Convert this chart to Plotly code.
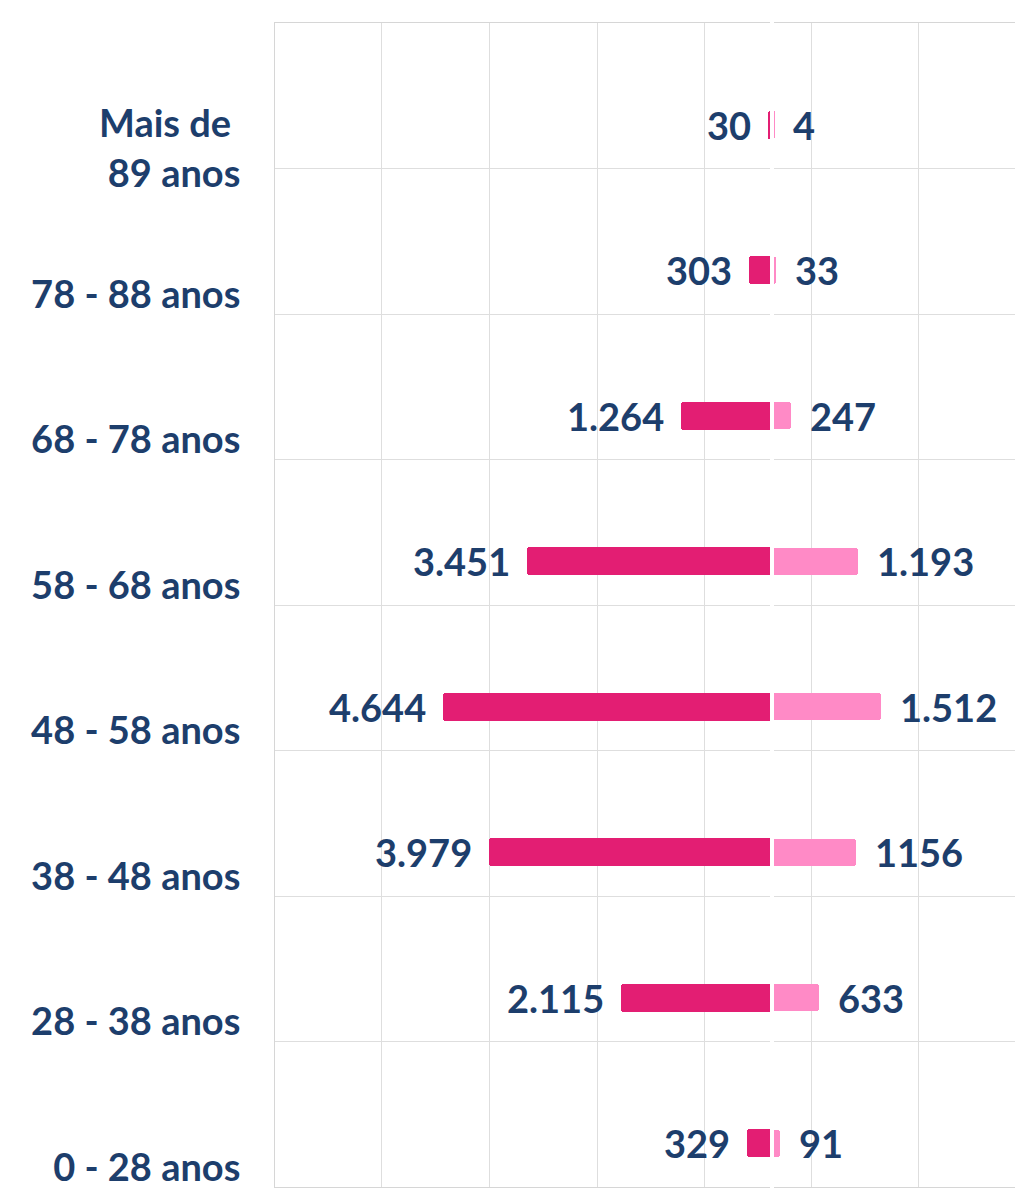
import plotly.graph_objects as go

# ---- data ----
categories = ["0 - 28 anos", "28 - 38 anos", "38 - 48 anos", "48 - 58 anos",
              "58 - 68 anos", "68 - 78 anos", "78 - 88 anos", "Mais de\u00a0<br>89 anos"]
left_values = [329, 2115, 3979, 4644, 3451, 1264, 303, 30]
left_labels = ["329", "2.115", "3.979", "4.644", "3.451", "1.264", "303", "30"]
right_values = [91, 633, 1156, 1512, 1193, 247, 33, 4]
right_labels = ["91", "633", "1156", "1.512", "1.193", "247", "33", "4"]

# ---- styles ----
DARK = "#e31e73"
LIGHT = "#ff8ac6"
NAVY = "#1d3e6c"
GRID = "#dedede"
LINE = "#d6d6d6"
FONT = dict(family="Lato, 'Open Sans', sans-serif", size=38, color=NAVY, weight=700)

ypos = list(range(len(categories)))

fig = go.Figure()
fig.add_bar(y=ypos, x=left_values, orientation="h", xaxis="x", yaxis="y",
            width=0.193, marker=dict(color=DARK, cornerradius=3, line=dict(width=0)),
            hoverinfo="skip", showlegend=False)
fig.add_bar(y=ypos, x=right_values, orientation="h", xaxis="x2", yaxis="y",
            width=0.186, marker=dict(color=LIGHT, cornerradius=3, line=dict(width=0)),
            hoverinfo="skip", showlegend=False)

annotations = []
for y, v, t in zip(ypos, left_values, left_labels):
    annotations.append(dict(x=v, y=y, xref="x", yref="y", text=t, showarrow=False,
                            xanchor="right", yanchor="middle", xshift=-15, font=FONT))
for y, v, t in zip(ypos, right_values, right_labels):
    annotations.append(dict(x=v, y=y, xref="x2", yref="y", text=t, showarrow=False,
                            xanchor="left", yanchor="middle", xshift=17, font=FONT))

W_PLOT = 740.0
fig.update_layout(
    width=1015, height=1191,
    margin=dict(l=275, r=0, t=23, b=4, autoexpand=False),
    paper_bgcolor="white", plot_bgcolor="white",
    bargap=0,
    annotations=annotations,
    xaxis=dict(domain=[0, 495 / W_PLOT], range=[7020, 0], autorange=False,
               anchor="y", showticklabels=False, ticks="", automargin=False,
               showgrid=True, gridcolor=GRID, gridwidth=1,
               tickmode="linear", tick0=922, dtick=1530,
               zeroline=False, showline=True, mirror=True, linecolor=LINE, linewidth=1),
    xaxis2=dict(domain=[499 / W_PLOT, 1], range=[0, 3418], autorange=False,
                anchor="y", showticklabels=False, ticks="", automargin=False,
                showgrid=True, gridcolor=GRID, gridwidth=1,
                tickmode="linear", tick0=525, dtick=1530,
                zeroline=False, showline=True, mirror=True, linecolor=LINE, linewidth=1),
    yaxis=dict(anchor="x", range=[-0.3, 7.7], autorange=False, automargin=False,
               tickmode="array", tickvals=ypos, ticktext=categories,
               tickfont=FONT, ticks="", showgrid=False, zeroline=False,
               showline=True, linecolor=LINE, linewidth=1,
               ticklabelshift=24, ticklabelstandoff=26, ticklabeloverflow="allow",
               minor=dict(tickmode="linear", tick0=-0.3, dtick=1, showgrid=True,
                          gridcolor=GRID, gridwidth=1, ticks="")),
)

fig.write_html(
    "out.html",
    config={"displayModeBar": False},
    post_script="document.body.style.margin='0';document.body.style.overflow='hidden';",
)
